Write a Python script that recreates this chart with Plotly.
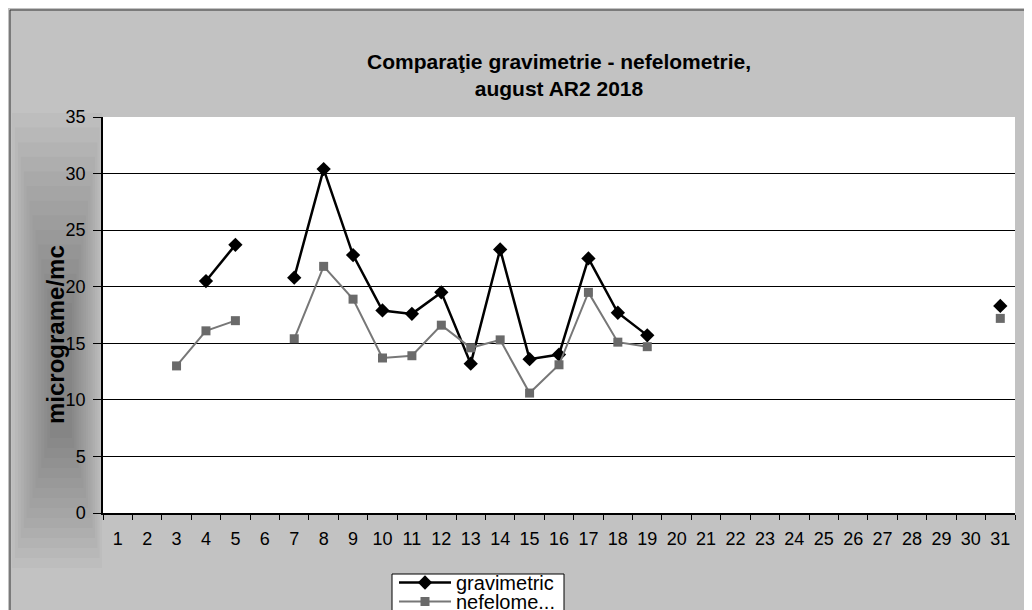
import plotly.graph_objects as go

days = list(range(1, 32))
gravimetric = [None, None, None, 20.5, 23.7, None, 20.8, 30.4, 22.8, 17.9, 17.6, 19.5, 13.2, 23.3,
               13.6, 14.0, 22.5, 17.7, 15.7] + [None] * 11 + [18.3]
nefelometric = [None, None, 13.0, 16.1, 17.0, None, 15.4, 21.8, 18.9, 13.7, 13.9, 16.6, 14.6, 15.3,
                10.6, 13.1, 19.5, 15.1, 14.7] + [None] * 11 + [17.2]
y_ticks = [0, 5, 10, 15, 20, 25, 30, 35]

FONT = "Liberation Sans, Arial, sans-serif"

# figure geometry (pixels)
W, H = 1032, 610
L, R, T, B = 95, 25, 109, 105
PW, PH = W - L - R, H - T - B


def px_x(p):
    return (p - L) / PW


def px_y(p):
    return (H - B - p) / PH


fig = go.Figure()
fig.add_trace(go.Scatter(
    x=days, y=gravimetric, name="gravimetric", mode="lines+markers",
    line=dict(color="#000000", width=2.5),
    marker=dict(symbol="diamond", size=11, color="#000000"),
    connectgaps=False, legend="legend",
))
fig.add_trace(go.Scatter(
    x=days, y=nefelometric, name="nefelome...", mode="lines+markers",
    line=dict(color="#777777", width=2),
    marker=dict(symbol="square", size=9, color="#6a6a6a"),
    connectgaps=False, legend="legend2",
))

# darker zone behind the y-axis title (approximate gradient)
n = 14
for i in range(n):
    f = i / (n - 1)
    x0 = 4 + 38 * f
    x1 = 94 - 30 * f
    y0 = 105 + 190 * f
    y1 = 560 - 130 * f
    fig.add_shape(type="rect", xref="paper", yref="paper",
                  x0=px_x(x0), x1=px_x(x1), y0=px_y(y1), y1=px_y(y0),
                  fillcolor="black", opacity=0.022, line_width=0, layer="below")

# outer border of the chart area
fig.add_shape(type="rect", xref="paper", yref="paper",
              x0=px_x(2), x1=px_x(W + 20), y0=px_y(H + 20), y1=px_y(2),
              line=dict(color="#333333", width=1), fillcolor="rgba(0,0,0,0)", layer="below")

# legend box
fig.add_shape(type="rect", xref="paper", yref="paper",
              x0=px_x(384), x1=px_x(556), y0=px_y(H + 20), y1=px_y(566),
              line=dict(color="#000000", width=1), fillcolor="#ffffff", layer="above")

fig.add_annotation(
    text="<b>micrograme/mc</b>", textangle=-90, showarrow=False,
    xref="paper", yref="paper", x=px_x(47), y=px_y(327), xanchor="center", yanchor="middle",
    font=dict(size=24, family=FONT, color="#000000"),
)

legend_common = dict(
    xanchor="left", yanchor="top", bgcolor="rgba(0,0,0,0)", borderwidth=0,
    font=dict(size=20, family=FONT, color="#000000"), itemwidth=52,
)

fig.update_layout(
    width=W, height=H,
    margin=dict(l=L, r=R, t=T, b=B, autoexpand=False),
    paper_bgcolor="#c2c2c2",
    plot_bgcolor="#ffffff",
    font=dict(family=FONT, color="#000000"),
    title=dict(
        text="<b>Comparaţie gravimetrie - nefelometrie,<br>august AR2 2018</b>",
        xref="paper", x=0.5, xanchor="center",
        yref="container", y=1 - 61 / H, yanchor="middle",
        font=dict(size=21, family=FONT, color="#000000"),
    ),
    showlegend=True,
    legend=dict(x=px_x(386), y=px_y(555), **legend_common),
    legend2=dict(x=px_x(386), y=px_y(574), **legend_common),
    xaxis=dict(
        range=[0.5, 31.5], tickmode="array", tickvals=days, ticktext=[str(d) for d in days],
        ticks="", showgrid=False, zeroline=False,
        showline=True, linecolor="#000000", linewidth=1.5,
        tickfont=dict(size=18, family=FONT, color="#000000"),
        ticklabelstandoff=9,
        minor=dict(tickmode="array", tickvals=[d + 0.5 for d in range(0, 32)],
                   ticks="outside", ticklen=5, tickcolor="#000000", showgrid=False),
    ),
    yaxis=dict(
        range=[0, 35], tickmode="array", tickvals=y_ticks,
        ticks="outside", ticklen=8, tickcolor="#000000",
        showgrid=True, gridcolor="#000000", gridwidth=1, zeroline=False,
        showline=True, linecolor="#000000", linewidth=1.5,
        tickfont=dict(size=18, family=FONT, color="#000000"),
        ticklabelstandoff=4,
    ),
)

fig.write_html("out.html")
